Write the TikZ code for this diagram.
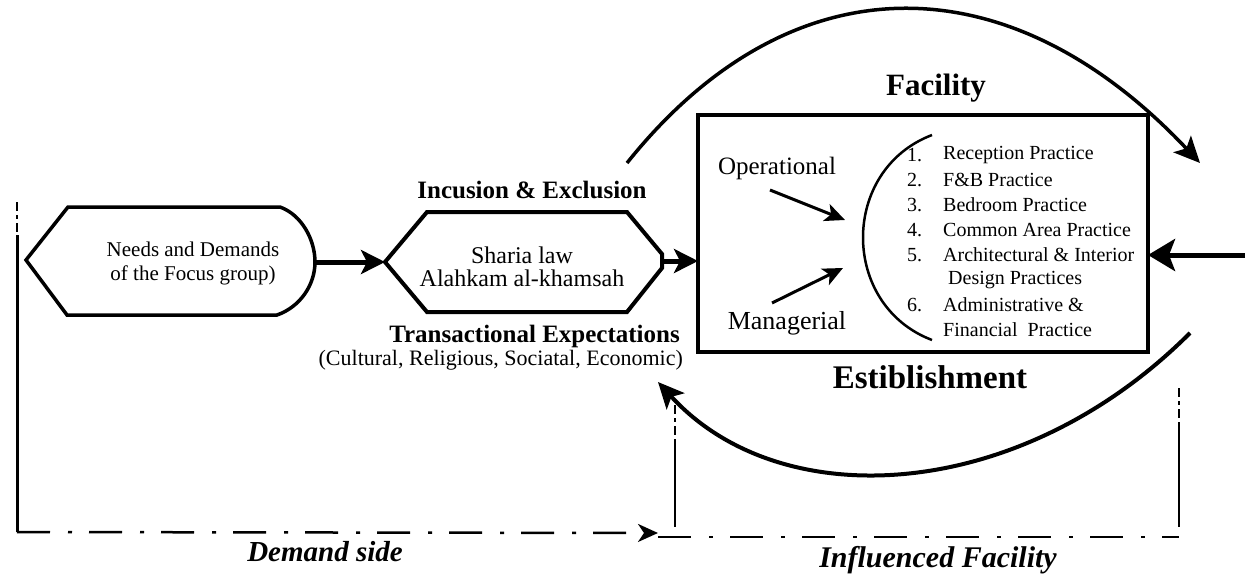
\documentclass[tikz,border=0pt]{standalone}
\usepackage{fontspec}
\setmainfont{Liberation Serif}
\usetikzlibrary{arrows.meta}
\newcommand\fsz[2]{\fontsize{#1}{#2}\selectfont}
\begin{document}
\begin{tikzpicture}[x=1pt,y=-1pt,
  ln/.style={line width=3pt},
  bigarrow/.style={line width=5pt,-{Stealth[length=24pt,width=24pt,inset=6pt]}},
  medarrow/.style={line width=3pt,-{Stealth[length=20pt,width=18pt,inset=5pt]}},
  arcarrow/.style={line width=3.5pt,-{Stealth[length=26pt,width=24pt,inset=6pt]}},
  ddot/.style={line width=2.5pt,dash pattern=on 33pt off 18pt on 4pt off 17pt},
  vdot/.style={line width=2.5pt,dash pattern=on 9pt off 4pt on 4pt off 4pt},
  lbl/.style={inner sep=0pt,align=center},
  item/.style={inner sep=0pt,anchor=west,font=\fsz{20}{24}}]
\fill[white] (0,0) rectangle (1251,576);
\useasboundingbox (0,0) rectangle (1251,576);

% shapes
\coordinate (h1w) at (26,260);
\coordinate (h1e) at (315,262);
\draw[line width=3.5pt,line join=miter] (h1w) -- (68,207) -- (280,207)
  .. controls (302,215) and (315,240) .. (h1e)
  .. controls (315,285) and (300,307) .. (277,315) -- (67,315) -- cycle;
\coordinate (h2w) at (385,262);
\coordinate (h2e) at (662,261);
\draw[line width=4pt,line join=miter] (h2w) -- (427,212) -- (627,212) -- (662,254) -- (662,268) -- (627,312) -- (427,312) -- cycle;
\coordinate (boxw) at (698,261);
\coordinate (boxe) at (1148,255);
\draw[line width=4pt] (698,115) rectangle (1148,352);

% texts
\node[lbl,font=\fsz{21}{24}] (needs) at (193,263) {Needs and Demands\\of the Focus group)};
\node[lbl,font=\fsz{24}{23}] (sharia) at (522,267) {Sharia law\\Alahkam al-khamsah};
\node[lbl,font=\fsz{25}{28}\bfseries] (incl) at (532,190) {Incusion \& Exclusion};
\node[lbl,font=\fsz{25}{28}\bfseries,anchor=east] (trans) at (680,336) {Transactional Expectations};
\node[lbl,font=\fsz{22}{24},anchor=east] (cult) at (683,360) {(Cultural, Religious, Sociatal, Economic)};
\node[lbl,font=\fsz{31}{34}\bfseries] (fac) at (936,88) {Facility};
\node[lbl,font=\fsz{33}{36}\bfseries] (est) at (930,377) {Estiblishment};
\node[lbl,font=\fsz{25}{28}] (oper) at (777,168) {Operational};
\node[lbl,font=\fsz{26}{28}] (mana) at (787,323) {Managerial};
\node[lbl,font=\fsz{29}{32}\bfseries\itshape] (dem) at (325,552) {Demand side};
\node[lbl,font=\fsz{30}{32}\bfseries\itshape] (infl) at (938,560) {Influenced Facility};

\foreach \n/\t/\y in {1/Reception Practice/155,2/F\&B Practice/180,3/Bedroom Practice/205,4/Common Area Practice/230,5/Architectural \& Interior/255,6/Administrative \&/305}{
  \node[item] (n\n) at (907,\y) {\n.};
  \node[item] (t\n) at (943,\y) {\t};
}
\node[item] (t5b) at (948,280) {Design Practices};
\node[item] (t6b) at (943,330) {Financial\ \ Practice};

% bracket arc
\coordinate (pa) at (932,135);
\coordinate (pb) at (932,340);
\draw[line width=2.5pt] (pa) .. controls (840,170) and (840,305) .. (pb);

% arrows
\draw[bigarrow] (h1e) -- (h2w);
\draw[bigarrow] (h2e) -- (boxw);
\coordinate (rin) at (1245,255);
\draw[line width=5pt,-{Stealth[length=27pt,width=32pt,inset=6pt]}] (rin) -- (boxe);
\coordinate (o1) at (770,190); \coordinate (o2) at (845,220);
\coordinate (m1) at (772,303); \coordinate (m2) at (843,268);
\draw[medarrow] (o1) -- (o2);
\draw[medarrow] (m1) -- (m2);

\coordinate (ta) at (627,163); \coordinate (tb) at (1200,163);
\draw[arcarrow] (ta) .. controls (790,-41) and (1008,-41) .. (tb);
\coordinate (ba) at (1190,333); \coordinate (bb) at (658,382);
\draw[arcarrow,line width=4pt] (ba) .. controls (1020,503) and (781,517) .. (bb);

% frame lines
\coordinate (l1t) at (17,202); \coordinate (l1m) at (17,235); \coordinate (l1b) at (17,532);
\coordinate (dtip) at (658,533);
\draw[vdot] (l1t) -- (l1m);
\draw[ln] (l1m) -- (l1b);
\draw[ddot,-{Stealth[length=20pt,width=18pt,inset=6pt]}] (l1b) -- (dtip);
\coordinate (r0) at (658,537); \coordinate (r1) at (1179,537);
\draw[ddot] (r0) -- (r1);
\coordinate (v2t) at (675,405); \coordinate (v2m) at (675,442); \coordinate (v2b) at (675,527);
\draw[vdot] (v2t) -- (v2m);
\draw[line width=2.5pt] (v2m) -- (v2b);
\coordinate (v3t) at (1179,388); \coordinate (v3m) at (1179,423); \coordinate (v3b) at (1179,527);
\draw[vdot] (v3t) -- (v3m);
\draw[line width=2.5pt] (v3m) -- (v3b);
\end{tikzpicture}
\end{document}
